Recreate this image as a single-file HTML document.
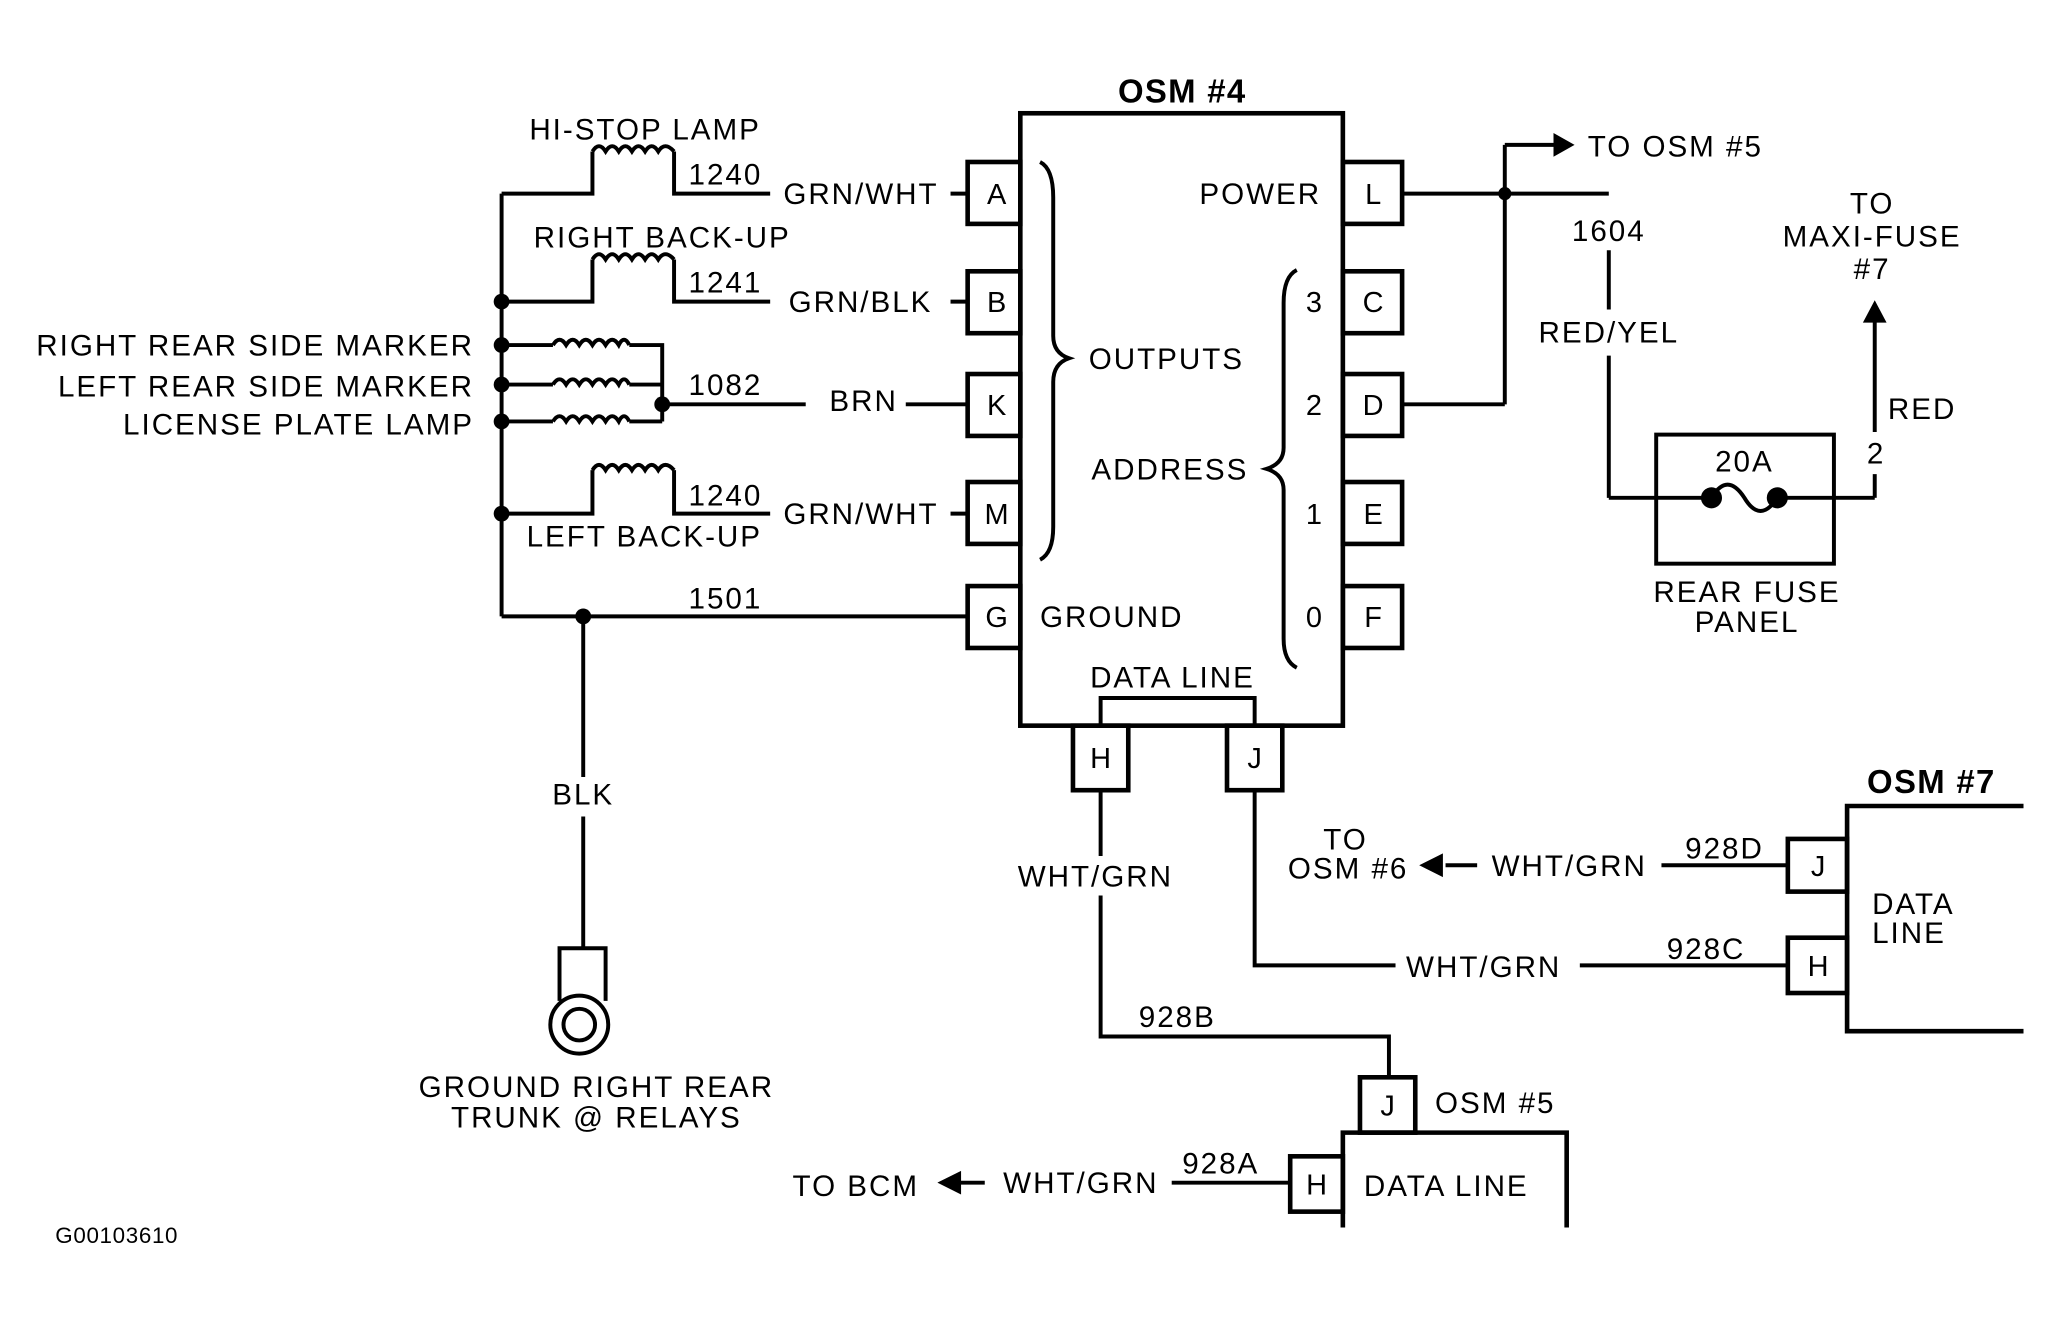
<!DOCTYPE html>
<html><head><meta charset="utf-8"><style>
html,body{margin:0;padding:0;background:#fff;}
svg{display:block;}
text{font-family:"Liberation Sans",Arial,sans-serif;font-size:22.5px;letter-spacing:1.5px;fill:#000;}
.b{font-weight:bold;font-size:25px;letter-spacing:1px;}
.p{font-size:22px;text-anchor:middle;letter-spacing:0;}
</style></head><body>
<svg width="2063" height="1317" viewBox="0 0 1567 1000" preserveAspectRatio="none" xmlns="http://www.w3.org/2000/svg">
<g fill="none" stroke="#000" stroke-width="3">
<rect x="775" y="86" width="245" height="465" stroke-width="3.5"/>
<rect x="735" y="123" width="40" height="47" stroke-width="3.5"/>
<rect x="735" y="206" width="40" height="47" stroke-width="3.5"/>
<rect x="735" y="284" width="40" height="47" stroke-width="3.5"/>
<rect x="735" y="366" width="40" height="47" stroke-width="3.5"/>
<rect x="735" y="445" width="40" height="47" stroke-width="3.5"/>
<rect x="1020" y="123" width="45" height="47" stroke-width="3.5"/>
<rect x="1020" y="206" width="45" height="47" stroke-width="3.5"/>
<rect x="1020" y="284" width="45" height="47" stroke-width="3.5"/>
<rect x="1020" y="366" width="45" height="47" stroke-width="3.5"/>
<rect x="1020" y="445" width="45" height="47" stroke-width="3.5"/>
<rect x="815" y="551" width="42" height="49" stroke-width="3.5"/>
<rect x="932" y="551" width="42" height="49" stroke-width="3.5"/>
<polyline points="836,551 836,530 953,530 953,551"/>
<path d="M790,123 Q800,128 800,150 L800,255 Q800,268 812,272 Q800,276 800,290 L800,400 Q800,420 790,425"/>
<path d="M985,205 Q975,210 975,230 L975,340 Q975,352 962,356 Q975,360 975,372 L975,485 Q975,502 985,507"/>
<line x1="381" y1="147" x2="381" y2="468"/>
<polyline points="381,147 450,147 450,115"/>
<polyline points="512,115 512,147 585,147"/>
<line x1="722" y1="147" x2="735" y2="147"/>
<polyline points="381,229 450,229 450,197"/>
<polyline points="512,197 512,229 585,229"/>
<line x1="722" y1="229" x2="735" y2="229"/>
<polyline points="381,390 450,390 450,357"/>
<polyline points="512,357 512,390 585,390"/>
<line x1="722" y1="390" x2="735" y2="390"/>
<polyline points="381,262 420,262"/><polyline points="478,262 503,262 503,320"/>
<polyline points="381,292 420,292"/><polyline points="478,292 503,292"/>
<polyline points="381,320 420,320"/><polyline points="478,320 503,320"/>
<line x1="503" y1="307" x2="612" y2="307"/>
<line x1="688" y1="307" x2="735" y2="307"/>
<path d="M450,115 q5,-8 10,0 q5,-8 10,0 q5,-8 10,0 q5,-8 10,0 q5,-8 10,0 q5,-8 12,0"/>
<path d="M450,197 q5,-8 10,0 q5,-8 10,0 q5,-8 10,0 q5,-8 10,0 q5,-8 10,0 q5,-8 12,0"/>
<path d="M450,357 q5,-8 10,0 q5,-8 10,0 q5,-8 10,0 q5,-8 10,0 q5,-8 10,0 q5,-8 12,0"/>
<path d="M420,262 q5,-8 10,0 q5,-8 10,0 q5,-8 10,0 q5,-8 10,0 q5,-8 10,0 q4,-8 8,0"/>
<path d="M420,292 q5,-8 10,0 q5,-8 10,0 q5,-8 10,0 q5,-8 10,0 q5,-8 10,0 q4,-8 8,0"/>
<path d="M420,320 q5,-8 10,0 q5,-8 10,0 q5,-8 10,0 q5,-8 10,0 q5,-8 10,0 q4,-8 8,0"/>
<line x1="381" y1="468" x2="735" y2="468"/>
<line x1="443" y1="468" x2="443" y2="590"/>
<line x1="443" y1="620" x2="443" y2="720"/>
<polyline points="425,760 425,720 460,720 460,760"/>
<circle cx="440" cy="778" r="22"/>
<circle cx="440" cy="778" r="12"/>
<line x1="1065" y1="147" x2="1143" y2="147"/>
<line x1="1065" y1="307" x2="1143" y2="307"/>
<line x1="1143" y1="110" x2="1143" y2="307"/>
<line x1="1143" y1="110" x2="1182" y2="110"/>
<line x1="1143" y1="147" x2="1222" y2="147"/>
<line x1="1222" y1="190" x2="1222" y2="235"/>
<line x1="1222" y1="270" x2="1222" y2="378"/>
<line x1="1222" y1="378" x2="1300" y2="378"/>
<path d="M1300,378 q12,-20 25,0 q12,20 25,0"/>
<line x1="1350" y1="378" x2="1424" y2="378"/>
<line x1="1424" y1="378" x2="1424" y2="360"/>
<line x1="1424" y1="328" x2="1424" y2="242"/>
<rect x="1258" y="330" width="135" height="98"/>
<line x1="836" y1="600" x2="836" y2="650"/>
<polyline points="836,680 836,787 1055,787 1055,818"/>
<polyline points="953,600 953,733 1060,733"/>
<line x1="1200" y1="733" x2="1358" y2="733"/>
<line x1="1098" y1="657" x2="1122" y2="657"/>
<line x1="1262" y1="657" x2="1358" y2="657"/>
<rect x="1358" y="637" width="45" height="40" stroke-width="3.5"/>
<rect x="1358" y="712" width="45" height="42" stroke-width="3.5"/>
<polyline points="1537,612 1403,612 1403,783 1537,783" stroke-width="3.5"/>
<rect x="1033" y="818" width="42" height="42" stroke-width="3.5"/>
<rect x="980" y="878" width="40" height="42" stroke-width="3.5"/>
<polyline points="1020,932 1020,860 1190,860 1190,932" stroke-width="3.5"/>
<line x1="890" y1="898" x2="980" y2="898"/>
<line x1="726" y1="898" x2="748" y2="898"/>
</g>
<g fill="#000">
<circle cx="381" cy="229" r="6"/><circle cx="381" cy="262" r="6"/><circle cx="381" cy="292" r="6"/>
<circle cx="381" cy="320" r="6"/><circle cx="381" cy="390" r="6"/><circle cx="503" cy="307" r="6"/>
<circle cx="443" cy="468" r="6"/><circle cx="1143" cy="147" r="5"/>
<circle cx="1300" cy="378" r="8"/><circle cx="1350" cy="378" r="8"/>
<polygon points="1196,110 1180,101 1180,119"/>
<polygon points="1424,228 1415,245 1433,245"/>
<polygon points="1078,657 1096,648 1096,666"/>
<polygon points="712,898 730,889 730,907"/>
</g>
<text class="b" x="898" y="78" text-anchor="middle">OSM #4</text>
<text x="490" y="106" text-anchor="middle">HI-STOP LAMP</text>
<text x="523" y="140">1240</text>
<text x="595" y="155">GRN/WHT</text>
<text x="503" y="188" text-anchor="middle">RIGHT  BACK-UP</text>
<text x="523" y="222">1241</text>
<text x="599" y="237">GRN/BLK</text>
<text x="360" y="270" text-anchor="end">RIGHT REAR SIDE MARKER</text>
<text x="360" y="301" text-anchor="end">LEFT REAR SIDE MARKER</text>
<text x="360" y="330" text-anchor="end">LICENSE PLATE LAMP</text>
<text x="523" y="300">1082</text>
<text x="630" y="312">BRN</text>
<text x="523" y="384">1240</text>
<text x="595" y="398">GRN/WHT</text>
<text x="400" y="415">LEFT BACK-UP</text>
<text x="523" y="462">1501</text>
<text class="p" x="757" y="155">A</text><text class="p" x="757" y="237">B</text>
<text class="p" x="757" y="315">K</text><text class="p" x="757" y="398">M</text>
<text class="p" x="757" y="476">G</text>
<text class="p" x="1043" y="155">L</text><text class="p" x="1043" y="237">C</text>
<text class="p" x="1043" y="315">D</text><text class="p" x="1043" y="398">E</text>
<text class="p" x="1043" y="476">F</text>
<text class="p" x="836" y="583">H</text><text class="p" x="953" y="583">J</text>
<text x="911" y="155">POWER</text>
<text x="827" y="280">OUTPUTS</text>
<text x="829" y="364">ADDRESS</text>
<text x="790" y="476">GROUND</text>
<text x="828" y="522">DATA LINE</text>
<text class="p" x="998" y="237">3</text><text class="p" x="998" y="315">2</text>
<text class="p" x="998" y="398">1</text><text class="p" x="998" y="476">0</text>
<text x="1206" y="119">TO OSM #5</text>
<text x="1222" y="183" text-anchor="middle">1604</text>
<text x="1222" y="260" text-anchor="middle">RED/YEL</text>
<text x="1422" y="162" text-anchor="middle">TO</text>
<text x="1422" y="187" text-anchor="middle">MAXI-FUSE</text>
<text x="1422" y="212" text-anchor="middle">#7</text>
<text x="1434" y="318">RED</text>
<text x="1418" y="352">2</text>
<text x="1325" y="358" text-anchor="middle">20A</text>
<text x="1327" y="457" text-anchor="middle">REAR FUSE</text>
<text x="1327" y="480" text-anchor="middle">PANEL</text>
<text x="443" y="611" text-anchor="middle">BLK</text>
<text x="453" y="833" text-anchor="middle">GROUND RIGHT REAR</text>
<text x="453" y="856" text-anchor="middle">TRUNK @ RELAYS</text>
<text x="832" y="673" text-anchor="middle">WHT/GRN</text>
<text x="865" y="780">928B</text>
<text class="b" x="1467" y="602" text-anchor="middle">OSM #7</text>
<text x="1022" y="645" text-anchor="middle">TO</text>
<text x="1024" y="667" text-anchor="middle">OSM #6</text>
<text x="1133" y="665">WHT/GRN</text>
<text x="1280" y="652">928D</text>
<text x="1068" y="742">WHT/GRN</text>
<text x="1266" y="728">928C</text>
<text class="p" x="1381" y="665">J</text><text class="p" x="1381" y="741">H</text>
<text x="1422" y="694">DATA</text><text x="1422" y="716">LINE</text>
<text class="p" x="1054" y="847">J</text><text class="p" x="1000" y="907">H</text>
<text x="1090" y="845">OSM #5</text>
<text x="1036" y="908">DATA LINE</text>
<text x="898" y="891">928A</text>
<text x="762" y="906">WHT/GRN</text>
<text x="602" y="908">TO BCM</text>
<text x="42" y="944" style="font-size:17px;letter-spacing:0.5px">G00103610</text>
</svg>
</body></html>
